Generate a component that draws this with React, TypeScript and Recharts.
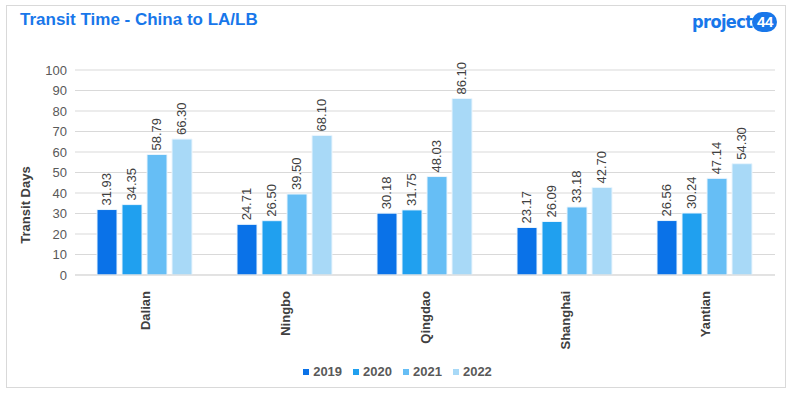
import { BarChart, Bar, XAxis, YAxis, CartesianGrid, LabelList } from "recharts";

const ports = ["Dalian", "Ningbo", "Qingdao", "Shanghai", "Yantian"];
const y2019 = [31.93, 24.71, 30.18, 23.17, 26.56];
const y2020 = [34.35, 26.5, 31.75, 26.09, 30.24];
const y2021 = [58.79, 39.5, 48.03, 33.18, 47.14];
const y2022 = [66.3, 68.1, 86.1, 42.7, 54.3];
const yTicks = [0, 10, 20, 30, 40, 50, 60, 70, 80, 90, 100];

const series = [
  { key: "2019", color: "#0A72E8" },
  { key: "2020", color: "#20A0EF" },
  { key: "2021", color: "#66BEF5" },
  { key: "2022", color: "#A8D9F7" },
];

const data = ports.map((p, i) => ({
  port: p,
  "2019": y2019[i],
  "2020": y2020[i],
  "2021": y2021[i],
  "2022": y2022[i],
}));

const FONT = "'Liberation Sans', Arial, sans-serif";

function ValueLabel(props: any) {
  const { x, y, width, value } = props;
  const cx = x + width / 2;
  const ty = y - 4;
  return (
    <text
      x={cx}
      y={ty}
      transform={`rotate(-90 ${cx} ${ty})`}
      textAnchor="start"
      dominantBaseline="central"
      fontSize={13}
      fill="#404040"
      fontFamily={FONT}
    >
      {Number(value).toFixed(2)}
    </text>
  );
}

function PortTick(props: any) {
  const { x, y, payload } = props;
  const ty = y + 8;
  return (
    <text
      x={x}
      y={ty}
      transform={`rotate(-90 ${x} ${ty})`}
      textAnchor="end"
      dominantBaseline="central"
      fontSize={13}
      fontWeight="bold"
      fill="#404040"
      fontFamily={FONT}
    >
      {payload.value}
    </text>
  );
}

export default function App() {
  return (
    <div style={{ position: "absolute", left: 0, top: 0, width: 795, height: 399, background: "#fff", fontFamily: FONT }}>
      <div style={{ position: "absolute", left: 6, top: 5, width: 778, height: 381, border: "1px solid #d9d9d9" }} />
      <div style={{ position: "absolute", left: 20, top: 10, fontSize: 17, fontWeight: "bold", color: "#1877EA" }}>
        Transit Time - China to LA/LB
      </div>
      <div style={{ position: "absolute", left: 692, top: 11, display: "flex", alignItems: "center" }}>
        <span
          style={{
            fontSize: 18,
            fontWeight: "bold",
            color: "#1877EA",
            fontFamily: "'DejaVu Sans Condensed', 'Liberation Sans Narrow', sans-serif",
            letterSpacing: -0.6,
          }}
        >
          project
        </span>
        <span
          style={{
            display: "inline-flex",
            alignItems: "center",
            justifyContent: "center",
            width: 25,
            height: 20,
            borderRadius: 10,
            background: "#1877EA",
            color: "#fff",
            fontSize: 15,
            fontWeight: "bold",
            letterSpacing: -0.5,
          }}
        >
          44
        </span>
      </div>
      <div
        style={{
          position: "absolute",
          left: 25,
          top: 205,
          transform: "translate(-50%, -50%) rotate(-90deg)",
          fontSize: 13,
          fontWeight: "bold",
          color: "#404040",
          whiteSpace: "nowrap",
        }}
      >
        Transit Days
      </div>
      <div style={{ position: "absolute", left: 0, top: 0 }}>
        <BarChart
          width={795}
          height={399}
          data={data}
          margin={{ top: 70, right: 20, bottom: 64, left: 0 }}
          barCategoryGap={22}
          barGap={5}
        >
          <CartesianGrid vertical={false} stroke="#d9d9d9" />
          <XAxis
            dataKey="port"
            height={60}
            axisLine={{ stroke: "#d9d9d9" }}
            tickLine={false}
            tick={<PortTick />}
            interval={0}
          />
          <YAxis
            width={75}
            domain={[0, 100]}
            ticks={yTicks}
            interval={0}
            axisLine={false}
            tickLine={false}
            tick={{ fontSize: 13, fill: "#595959", fontFamily: FONT }}
          />
          {series.map((s) => (
            <Bar key={s.key} dataKey={s.key} fill={s.color} stroke="#eaf5fd" strokeWidth={1} isAnimationActive={false}>
              <LabelList dataKey={s.key} content={<ValueLabel />} />
            </Bar>
          ))}
        </BarChart>
      </div>
      <div
        style={{
          position: "absolute",
          left: 0,
          width: 795,
          top: 364,
          display: "flex",
          justifyContent: "center",
          fontSize: 13,
          fontWeight: "bold",
          color: "#595959",
        }}
      >
        {series.map((s) => (
          <div key={s.key} style={{ display: "flex", alignItems: "center", margin: "0 5.5px" }}>
            <span style={{ width: 6, height: 6, background: s.color, marginRight: 4, display: "inline-block" }} />
            {s.key}
          </div>
        ))}
      </div>
    </div>
  );
}
